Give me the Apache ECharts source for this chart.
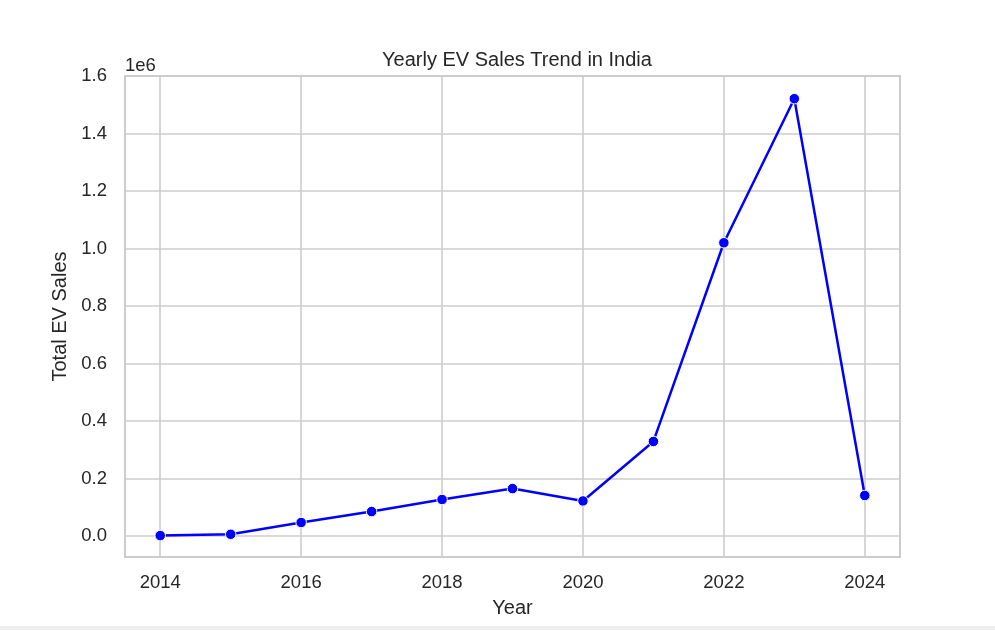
<!DOCTYPE html>
<html>
<head>
<meta charset="utf-8">
<title>Yearly EV Sales Trend in India</title>
<script src="https://cdn.jsdelivr.net/npm/echarts@6/dist/echarts.min.js"></script>
<style>
  html, body { margin: 0; padding: 0; background: #efefef; }
  #chart { width: 995px; height: 626px; background: #ffffff; }
</style>
</head>
<body>
<div id="chart"></div>
<script>
// data
const years = [2014, 2015, 2016, 2017, 2018, 2019, 2020, 2021, 2022, 2023, 2024];
const totalSales = [1500, 6000, 47000, 85000, 127000, 165000, 122000, 329000, 1020000, 1521000, 141000];
const xTicks = [2014, 2016, 2018, 2020, 2022, 2024];
const yTicks = [0, 200000, 400000, 600000, 800000, 1000000, 1200000, 1400000, 1600000];

const textColor = '#262626';
const gridColor = '#cccccc';
const font = 'Liberation Sans, Arial, sans-serif';

const chart = echarts.init(document.getElementById('chart'));

chart.setOption({
  animation: false,
  title: {
    text: 'Yearly EV Sales Trend in India',
    left: 512,
    textAlign: 'center',
    top: 45,
    textStyle: { color: textColor, fontSize: 20, fontWeight: 'normal', fontFamily: font }
  },
  grid: {
    left: 125,
    right: 95,
    top: 76,
    bottom: 69,
    show: true,
    borderColor: gridColor,
    borderWidth: 2,
    backgroundColor: '#ffffff'
  },
  xAxis: {
    type: 'value',
    min: 2013.5,
    max: 2024.5,
    name: 'Year',
    nameLocation: 'middle',
    nameGap: 41,
    nameTextStyle: { color: textColor, fontSize: 20, fontFamily: font },
    axisLine: { show: false },
    axisTick: { show: false, customValues: xTicks },
    axisLabel: {
      customValues: xTicks,
      color: textColor,
      fontSize: 18.5,
      fontFamily: font,
      margin: 16,
      formatter: v => String(v)
    },
    splitLine: { show: true, lineStyle: { color: gridColor, width: 1.6 } }
  },
  yAxis: {
    type: 'value',
    min: -73000,
    max: 1600000,
    name: 'Total EV Sales',
    nameLocation: 'middle',
    nameGap: 48,
    nameRotate: 90,
    nameTextStyle: { color: textColor, fontSize: 20, fontFamily: font },
    axisLine: { show: false },
    axisTick: { show: false, customValues: yTicks },
    axisLabel: {
      customValues: yTicks,
      color: textColor,
      fontSize: 18.5,
      fontFamily: font,
      margin: 18,
      formatter: v => (v / 1e6).toFixed(1)
    },
    splitLine: { show: true, lineStyle: { color: gridColor, width: 1.6 } }
  },
  graphic: [{
    type: 'text',
    left: 125,
    top: 56,
    style: { text: '1e6', fill: textColor, fontSize: 18.5, fontFamily: font }
  }],
  series: [{
    name: 'Total EV Sales',
    type: 'line',
    data: years.map((y, i) => [y, totalSales[i]]),
    symbol: 'circle',
    symbolSize: 10.5,
    lineStyle: { color: '#0000ff', width: 2.5 },
    itemStyle: { color: '#0000ff', borderColor: '#ffffff', borderWidth: 1 }
  }]
});
</script>
</body>
</html>
